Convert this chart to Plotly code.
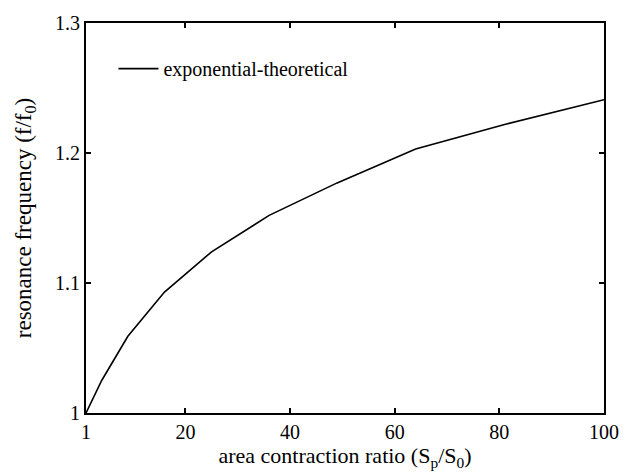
import plotly.graph_objects as go

area_ratio = [1, 4, 9, 16, 25, 36, 49, 64, 81, 100]
freq_ratio = [1.0, 1.025, 1.059, 1.093, 1.124, 1.152, 1.177, 1.203, 1.222, 1.241]
x_ticks = [1, 20, 40, 60, 80, 100]
y_ticks = [1.0, 1.1, 1.2, 1.3]
y_tick_labels = ["1", "1.1", "1.2", "1.3"]

FONT = "Liberation Serif, Times New Roman, serif"

fig = go.Figure()
fig.add_trace(go.Scatter(
    x=area_ratio, y=freq_ratio, mode="lines",
    line=dict(color="black", width=1.6),
    name="exponential-theoretical",
))

axis_common = dict(
    showline=True, linecolor="black", linewidth=2, mirror="ticks",
    ticks="inside", ticklen=5, tickwidth=1.5, tickcolor="black",
    showgrid=False, zeroline=False,
    tickfont=dict(family=FONT, size=20, color="black"),
)

fig.update_layout(
    width=631, height=472,
    margin=dict(l=86, r=15, t=19, b=59),
    paper_bgcolor="white", plot_bgcolor="white",
    font=dict(family=FONT, size=20, color="black"),
    showlegend=True,
    legend=dict(x=0.053, y=0.883, xanchor="left", yanchor="middle", itemwidth=40,
                bgcolor="rgba(0,0,0,0)", font=dict(family=FONT, size=20, color="black")),
    xaxis=dict(range=[1, 100], tickvals=x_ticks, ticktext=[str(v) for v in x_ticks],
               title=dict(text="area contraction ratio (S<sub>p</sub>/S<sub>0</sub>)",
                          font=dict(family=FONT, size=22, color="black"), standoff=2),
               **axis_common),
    yaxis=dict(range=[1.0, 1.3], tickvals=y_ticks, ticktext=y_tick_labels,
               title=dict(text="resonance frequency (f/f<sub>0</sub>)",
                          font=dict(family=FONT, size=23, color="black"), standoff=17),
               **axis_common),
)

fig.write_html("out.html")
